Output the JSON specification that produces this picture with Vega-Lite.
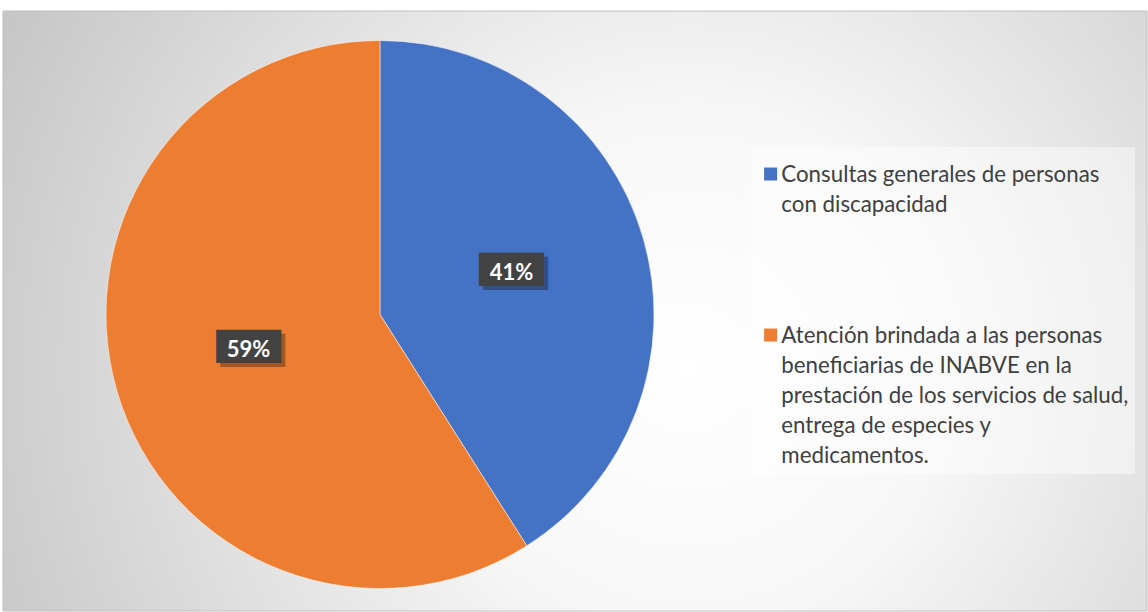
{
  "$schema": "https://vega.github.io/schema/vega-lite/v6.json",
  "width": 1148,
  "height": 612,
  "autosize": {"type": "fit", "contains": "padding"},
  "padding": {"top": 10, "left": 2, "right": 0, "bottom": 0},
  "background": "#ffffff",
  "datasets": {
    "valores": [
      {"categoria": "Consultas generales de personas con discapacidad", "valor": 0.41},
      {"categoria": "Atención brindada a las personas beneficiarias de INABVE en la prestación de los servicios de salud, entrega de especies y medicamentos.", "valor": 0.59}
    ],
    "fondo": [{"capa": "fondo"}]
  },
  "layer": [
    {
      "data": {"name": "fondo"},
      "mark": {
        "type": "rect",
        "stroke": "#bfbfbf",
        "strokeWidth": 1,
        "fill": {
          "gradient": "radial",
          "x1": 0.6, "y1": 0.55, "r1": 0,
          "x2": 0.6, "y2": 0.55, "r2": 0.75,
          "stops": [
            {"offset": 0, "color": "#ffffff"},
            {"offset": 0.3, "color": "#f7f7f7"},
            {"offset": 1, "color": "#bdbdbd"}
          ]
        }
      },
      "encoding": {
        "x": {"value": 0},
        "x2": {"value": "width"},
        "y": {"value": 0},
        "y2": {"value": "height"}
      }
    },
    {
      "data": {"name": "valores"},
      "mark": {"type": "arc", "x": 377, "y": 303.5, "outerRadius": 274, "stroke": "#ffffff", "strokeWidth": 0.5},
      "encoding": {
        "theta": {"field": "valor", "type": "quantitative", "stack": true},
        "order": {"field": "valor", "type": "quantitative", "sort": "ascending"},
        "color": {
          "field": "categoria",
          "type": "nominal",
          "scale": {
            "domain": ["Consultas generales de personas con discapacidad", "Atención brindada a las personas beneficiarias de INABVE en la prestación de los servicios de salud, entrega de especies y medicamentos."],
            "range": ["#4472C4", "#ED7D31"]
          },
          "legend": {
            "orient": "none",
            "legendX": 748,
            "legendY": 136,
            "title": null,
            "fillColor": "rgba(255,255,255,0.45)",
            "padding": 6,
            "symbolType": "M-0.62,0.52H1.38V2.52H-0.62Z",
            "symbolSize": 169,
            "symbolStrokeWidth": 0,
            "labelFont": "Lato",
            "labelFontSize": 22.3,
            "labelColor": "#404040",
            "labelLimit": 420,
            "labelOffset": 2,
            "labelBaseline": "top",
            "rowPadding": 97,
            "labelExpr": "datum.label == 'Consultas generales de personas con discapacidad' ? ['Consultas generales de personas', 'con discapacidad'] : ['Atención brindada a las personas', 'beneficiarias de INABVE en la', 'prestación de los servicios de salud,', 'entrega de especies y', 'medicamentos.']"
          }
        }
      }
    },
    {
      "data": {"name": "valores"},
      "mark": {"type": "text", "x": 377, "y": 303.5, "dx": 4, "dy": -1, "font": "DejaVu Sans", "fontSize": 28, "fill": "#000000", "opacity": 0.3, "baseline": "middle", "align": "center", "text": "███"},
      "encoding": {
        "theta": {"field": "valor", "type": "quantitative", "stack": true},
        "order": {"field": "valor", "type": "quantitative", "sort": "ascending"},
        "detail": {"field": "categoria", "type": "nominal"},
        "radius": {"value": 137}
      }
    },
    {
      "data": {"name": "valores"},
      "mark": {"type": "text", "x": 377, "y": 303.5, "dy": -5, "font": "DejaVu Sans", "fontSize": 28, "fill": "#424242", "baseline": "middle", "align": "center", "text": "███"},
      "encoding": {
        "theta": {"field": "valor", "type": "quantitative", "stack": true},
        "order": {"field": "valor", "type": "quantitative", "sort": "ascending"},
        "detail": {"field": "categoria", "type": "nominal"},
        "radius": {"value": 137}
      }
    },
    {
      "data": {"name": "valores"},
      "mark": {"type": "text", "x": 377, "y": 303.5, "dy": -3, "font": "Lato", "fontWeight": "bold", "fontSize": 22, "fill": "#ffffff", "baseline": "middle", "align": "center"},
      "encoding": {
        "theta": {"field": "valor", "type": "quantitative", "stack": true},
        "order": {"field": "valor", "type": "quantitative", "sort": "ascending"},
        "detail": {"field": "categoria", "type": "nominal"},
        "radius": {"value": 137},
        "text": {"field": "valor", "type": "quantitative", "format": ".0%"}
      }
    }
  ],
  "config": {
    "view": {"stroke": null},
    "style": {"guide-label": {"lineHeight": 30}}
  }
}
